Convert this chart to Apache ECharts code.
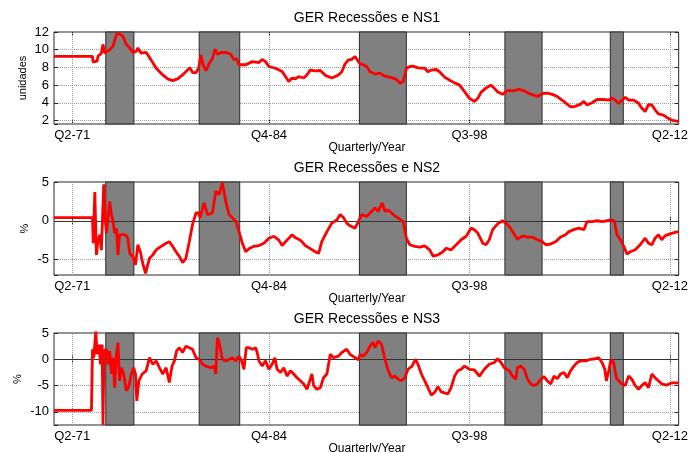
<!DOCTYPE html>
<html>
<head>
<meta charset="utf-8">
<script src="https://cdn.jsdelivr.net/npm/echarts@6/dist/echarts.min.js"></script>
<style>
  html, body { margin: 0; padding: 0; background: #fff; }
  #chart { width: 691px; height: 452px; }
</style>
</head>
<body>
<div id="chart"></div>
<script>
// eixo x em anos decimais
const xTicks = [1971.25, 1984.75, 1998.5, 2012.25];
const xTickLabels = ["Q2-71", "Q4-84", "Q3-98", "Q2-12"];
const recessions = [
  [1973.55, 1975.48],
  [1979.96, 1982.74],
  [1990.95, 1994.17],
  [2000.93, 2003.48],
  [2008.16, 2009.05],
];

const ns1Years = [1970.00,1972.64,1972.68,1972.95,1973.02,1973.14,1973.25,1973.36,1973.48,1973.60,
  1973.82,1974.05,1974.28,1974.46,1974.73,1974.96,1975.19,1975.41,1975.64,1975.75,
  1975.98,1976.32,1976.43,1976.66,1977.01,1977.46,1977.80,1978.14,1978.48,1978.82,
  1979.16,1979.33,1979.51,1979.74,1979.92,1980.08,1980.23,1980.42,1980.64,1980.87,
  1981.05,1981.21,1981.44,1981.78,1982.12,1982.35,1982.51,1982.69,1983.15,1983.60,
  1984.06,1984.28,1984.51,1984.74,1985.19,1985.65,1986.10,1986.33,1986.56,1986.78,
  1987.13,1987.35,1987.58,1987.92,1988.27,1988.61,1989.06,1989.51,1989.74,1989.97,
  1990.20,1990.42,1990.65,1990.76,1990.99,1991.22,1991.45,1991.68,1992.02,1992.36,
  1992.70,1993.15,1993.49,1993.72,1993.95,1994.18,1994.41,1994.63,1994.97,1995.43,
  1995.65,1995.88,1996.22,1996.45,1996.79,1997.14,1997.48,1997.82,1998.16,1998.50,
  1998.84,1999.07,1999.29,1999.63,1999.97,2000.20,2000.43,2000.77,2001.11,2001.46,
  2001.91,2002.25,2002.60,2002.94,2003.16,2003.50,2003.84,2004.18,2004.53,2004.98,
  2005.43,2005.77,2006.12,2006.34,2006.57,2006.91,2007.25,2007.71,2008.05,2008.28,
  2008.50,2008.73,2008.96,2009.19,2009.42,2009.76,2010.10,2010.32,2010.55,2010.78,
  2011.01,2011.23,2011.46,2011.80,2012.15,2012.49,2012.83];
const ns1Values = [9.25,9.25,8.6,8.7,9.25,9.3,9.6,10.6,9.6,9.5,
  10.0,10.4,11.7,11.85,11.5,10.6,10.2,9.7,9.8,10.2,
  9.6,9.7,9.5,8.85,7.9,7.15,6.7,6.5,6.7,7.15,
  7.7,7.95,7.4,7.4,7.9,9.4,8.3,7.64,8.4,9.03,
  10.07,9.5,9.68,9.7,9.5,8.85,9.0,8.3,8.3,8.65,
  8.55,8.9,8.65,8.1,7.9,7.53,6.4,6.8,6.7,6.95,
  6.8,7.15,7.7,7.6,7.65,7.1,6.8,7.15,7.5,8.4,
  8.85,8.9,9.23,9.05,8.4,8.3,8.1,7.5,7.25,7.35,
  7.0,6.85,6.65,6.2,6.4,7.9,8.1,8.15,7.95,7.9,
  7.5,7.7,7.76,7.5,6.9,6.55,6.25,6.0,5.25,4.5,
  4.14,4.5,5.18,5.65,6.0,5.65,5.25,4.95,5.4,5.35,
  5.52,5.35,5.03,4.85,4.7,5.03,5.1,4.95,4.7,4.14,
  3.55,3.6,3.85,4.15,3.75,4.0,4.37,4.37,4.3,4.55,
  4.3,3.92,4.3,4.6,4.3,4.3,3.95,3.37,3.0,3.8,
  3.75,3.2,2.75,2.6,2.23,1.97,1.9];

const ns2Years = [1970.00,1972.64,1972.69,1972.80,1972.91,1973.02,1973.14,1973.25,1973.41,1973.50,
  1973.60,1973.82,1973.94,1974.05,1974.16,1974.28,1974.39,1974.50,1974.73,1974.96,
  1975.07,1975.19,1975.41,1975.59,1975.75,1975.92,1976.09,1976.28,1976.43,1976.55,
  1976.78,1977.01,1977.35,1977.69,1977.91,1978.14,1978.37,1978.60,1978.82,1979.05,
  1979.28,1979.50,1979.74,1979.91,1980.03,1980.30,1980.53,1980.87,1981.10,1981.33,
  1981.55,1981.78,1982.01,1982.23,1982.47,1982.69,1982.92,1983.15,1983.37,1983.71,
  1984.06,1984.40,1984.74,1985.08,1985.42,1985.65,1985.99,1986.33,1986.56,1986.90,
  1987.24,1987.58,1987.92,1988.15,1988.37,1988.72,1989.06,1989.40,1989.63,1989.86,
  1990.08,1990.31,1990.65,1990.88,1991.10,1991.45,1991.68,1992.02,1992.24,1992.52,
  1992.70,1992.93,1993.27,1993.61,1993.95,1994.17,1994.41,1994.75,1995.09,1995.43,
  1995.77,1996.00,1996.34,1996.68,1996.90,1997.24,1997.59,1997.93,1998.27,1998.61,
  1998.84,1999.07,1999.41,1999.63,1999.86,2000.09,2000.43,2000.77,2001.00,2001.23,
  2001.45,2001.79,2002.14,2002.48,2002.82,2003.16,2003.50,2003.73,2004.07,2004.41,
  2004.75,2005.09,2005.32,2005.66,2006.00,2006.35,2006.57,2006.91,2007.25,2007.59,
  2007.94,2008.28,2008.43,2008.62,2008.85,2009.08,2009.30,2009.53,2009.87,2010.21,
  2010.55,2010.78,2011.01,2011.23,2011.46,2011.69,2011.91,2012.25,2012.60,2012.83];
const ns2Values = [0.4,0.4,-2.9,3.7,-4.4,-2.5,-1.8,-3.8,4.7,0.4,
  -1.6,2.5,0.8,-0.1,-1.6,-0.95,-4.4,-1.8,-1.8,-1.9,
  -2.3,-4.2,-4.6,-5.7,-3.1,-4.0,-5.5,-6.8,-5.7,-4.85,
  -4.4,-3.75,-3.3,-2.9,-2.7,-3.3,-4.0,-4.6,-5.4,-4.85,
  -2.7,-0.5,1.0,1.0,0.4,2.3,0.8,1.0,3.8,3.4,
  4.9,2.5,0.8,0.4,-0.1,-1.4,-2.9,-4.0,-3.6,-3.3,
  -3.2,-2.9,-2.25,-2.0,-2.5,-3.2,-2.5,-1.8,-2.2,-2.5,
  -3.2,-3.6,-4.0,-4.2,-2.7,-1.4,-0.3,0.1,0.8,0.4,
  -0.3,-0.65,-0.95,-0.1,0.8,0.56,1.0,1.65,1.2,2.3,
  1.2,1.4,0.8,0.35,-0.1,-2.25,-3.1,-3.3,-3.4,-3.25,
  -3.75,-4.55,-4.4,-4.0,-3.55,-3.75,-3.1,-2.45,-2.0,-0.95,
  -1.15,-1.6,-2.9,-3.1,-2.45,-1.15,-0.4,0,-0.3,-0.75,
  -1.4,-2.4,-1.95,-2.1,-2.1,-2.45,-2.7,-3.1,-3.0,-2.7,
  -2.1,-1.8,-1.4,-1.15,-0.95,-1.15,-0.1,-0.1,0,-0.1,
  0,0.1,0,-1.8,-2.45,-3.3,-4.3,-4.0,-3.75,-3.1,
  -2.25,-2.9,-3.1,-2.25,-1.8,-2.45,-1.95,-1.7,-1.5,-1.4];

const ns3Years = [1970.00,1972.57,1972.64,1972.73,1972.87,1972.95,1973.09,1973.19,1973.30,1973.36,
  1973.43,1973.60,1973.70,1973.82,1973.94,1974.05,1974.16,1974.28,1974.39,1974.50,
  1974.62,1974.78,1974.96,1975.14,1975.30,1975.46,1975.59,1975.68,1975.82,1976.05,
  1976.32,1976.55,1976.78,1977.01,1977.23,1977.46,1977.69,1977.91,1978.10,1978.26,
  1978.41,1978.60,1978.82,1979.05,1979.28,1979.50,1979.74,1979.96,1980.19,1980.42,
  1980.76,1980.99,1981.10,1981.21,1981.33,1981.44,1981.55,1981.78,1982.01,1982.23,
  1982.47,1982.69,1982.87,1983.03,1983.19,1983.37,1983.60,1983.83,1983.94,1984.06,
  1984.28,1984.51,1984.74,1984.96,1985.15,1985.30,1985.54,1985.76,1985.99,1986.22,
  1986.44,1986.67,1986.90,1987.13,1987.35,1987.58,1987.69,1987.81,1988.03,1988.27,
  1988.49,1988.72,1988.95,1989.17,1989.51,1989.74,1990.08,1990.31,1990.65,1990.88,
  1990.99,1991.22,1991.45,1991.68,1991.90,1992.02,1992.24,1992.47,1992.70,1992.93,
  1993.15,1993.38,1993.61,1993.83,1994.06,1994.29,1994.56,1994.79,1994.97,1995.20,
  1995.43,1995.65,1995.88,1996.11,1996.34,1996.56,1996.79,1997.02,1997.24,1997.48,
  1997.70,1997.93,1998.16,1998.50,1998.84,1999.18,1999.52,1999.86,2000.20,2000.43,
  2000.66,2000.89,2001.23,2001.45,2001.68,2001.79,2002.02,2002.25,2002.48,2002.70,
  2002.93,2003.16,2003.38,2003.61,2003.84,2004.07,2004.30,2004.52,2004.75,2004.98,
  2005.21,2005.43,2005.66,2005.89,2006.12,2006.46,2006.80,2007.14,2007.37,2007.59,
  2007.78,2007.89,2008.05,2008.21,2008.39,2008.57,2008.73,2008.96,2009.18,2009.42,
  2009.64,2009.87,2010.10,2010.32,2010.55,2010.78,2011.01,2011.23,2011.46,2011.69,
  2012.03,2012.37,2012.83];
const ns3Values = [-9.7,-9.7,1.9,0.3,5.5,0.95,2.8,-0.95,2.8,-12.5,
  1.6,1.9,-0.95,1.6,-2.8,0.3,-5.4,0.95,3.2,-4.1,
  -1.6,-2.8,-6.0,-5.1,-2.8,-1.6,-2.8,-7.9,-4.1,-2.8,
  -2.2,0.3,-0.95,-0.3,-1.6,-2.8,-1.6,-4.4,-1.3,-0.3,
  1.6,2.2,1.3,2.5,2.2,1.9,0.3,0,-0.95,-1.3,
  -1.6,-1.3,-2.8,4.1,3.2,2.9,0,-0.3,0,0.3,
  -0.3,0.6,-0.3,-1.9,2.2,2.2,1.9,2.2,1.3,-0.3,
  -1.3,-0.3,-1.9,-0.95,0.3,-1.9,-2.5,-1.6,-3.2,-2.2,
  -2.8,-3.5,-4.1,-4.7,-5.7,-3.8,-2.8,-5.0,-5.7,-5.4,
  -3.5,-2.8,0.95,0.3,0.6,1.3,1.9,0.95,0.3,-0.1,
  0.9,0.6,1.3,2.5,3.2,2.2,3.5,2.8,0,-2.2,
  -3.5,-3.2,-3.8,-4.1,-3.5,-1.9,-1.3,0,-0.95,-2.8,
  -4.1,-5.4,-6.8,-6.3,-5.2,-6.2,-6.4,-6.6,-5.4,-3.2,
  -2.2,-1.9,-1.3,-1.9,-2.0,-3.2,-1.9,-0.95,-0.6,0.1,
  -0.6,-1.6,-2.2,-3.2,-3.8,-1.6,-1.3,-1.9,-3.8,-4.7,
  -5.0,-4.7,-3.8,-3.3,-4.1,-4.7,-3.2,-3.7,-2.8,-2.5,
  -3.5,-2.2,-1.3,-0.6,-0.3,-0.3,0,0.1,0.3,-0.6,
  -1.9,-4.1,-2.2,0,-0.6,-3.5,-4.1,-4.7,-5.0,-3.2,
  -3.8,-5.0,-5.7,-5.0,-4.4,-5.4,-2.8,-3.5,-4.1,-4.7,
  -4.9,-4.5,-4.5];

const xMin = 1970.0;
const xMax = 2012.85;

const panels = [
  { title: "GER Recessões e NS1", yName: "unidades", years: ns1Years, values: ns1Values,
    yMin: 1.6, yMax: 12, split: 5, step: 2, zero: false, top: 32, height: 92, yNameX: 23 },
  { title: "GER Recessões e NS2", yName: "%", years: ns2Years, values: ns2Values,
    yMin: -7, yMax: 5, split: 2, step: 5, zero: true, top: 182, height: 93, yNameX: 25 },
  { title: "GER Recessões e NS3", yName: "%", years: ns3Years, values: ns3Values,
    yMin: -12.5, yMax: 5, split: 3, step: 5, zero: true, top: 333, height: 92, yNameX: 18 },
];

const FONT = "Liberation Sans, Arial, sans-serif";
const dark = "#262626";

const grid = [], xAxis = [], yAxis = [], series = [], graphic = [];

panels.forEach((p, i) => {
  grid.push({ left: 54, top: p.top, width: 628, height: p.height,
    show: true, borderColor: dark, borderWidth: 1, backgroundColor: "#fff" });

  // eixo x de baixo (rótulos) e de cima (só marcas)
  xAxis.push({
    type: "value", gridIndex: i, min: xMin, max: xMax, position: "bottom",
    axisLine: { show: false },
    axisTick: { show: true, inside: true, length: 4, customValues: xTicks, lineStyle: { color: dark } },
    axisLabel: { show: true, customValues: xTicks, margin: 5, color: "#000", fontSize: 13, fontFamily: FONT,
      formatter: (v) => { const k = xTicks.indexOf(v); return k >= 0 ? xTickLabels[k] : ""; } },
    splitLine: { show: false },
  });
  xAxis.push({
    type: "value", gridIndex: i, min: xMin, max: xMax, position: "top",
    axisLine: { show: false },
    axisTick: { show: true, inside: true, length: 4, customValues: xTicks, lineStyle: { color: dark } },
    axisLabel: { show: false }, splitLine: { show: false },
  });

  yAxis.push({
    type: "value", gridIndex: i, min: p.yMin, max: p.yMax, splitNumber: p.split, position: "left",
    axisLine: { show: false },
    axisTick: { show: true, inside: true, length: 4, lineStyle: { color: dark } },
    axisLabel: { margin: 5, color: "#000", fontSize: 13, fontFamily: FONT,
      formatter: (v) => (Math.abs(v % p.step) < 1e-9 ? String(v) : "") },
    splitLine: { show: true, lineStyle: { type: "dotted", color: "#999", width: 1 } },
  });
  yAxis.push({
    type: "value", gridIndex: i, min: p.yMin, max: p.yMax, splitNumber: p.split, position: "right",
    axisLine: { show: false },
    axisTick: { show: true, inside: true, length: 4, lineStyle: { color: dark } },
    axisLabel: { show: false }, splitLine: { show: false },
  });

  // linhas verticais pontilhadas nas marcas do eixo x (atrás das recessões)
  series.push({
    type: "line", xAxisIndex: 2 * i, yAxisIndex: 2 * i, data: [], silent: true,
    markLine: {
      z: 0.5, silent: true, symbol: "none", label: { show: false },
      lineStyle: { type: "dotted", color: "#999", width: 1 },
      data: xTicks.map((v) => ({ xAxis: v })),
    },
  });

  const s = {
    name: p.title, type: "line", xAxisIndex: 2 * i, yAxisIndex: 2 * i, z: 3,
    data: p.years.map((x, k) => [x, p.values[k]]),
    showSymbol: false, symbol: "none", clip: true,
    lineStyle: { color: "#ff0000", width: 2.8 },
    markArea: {
      z: 1, silent: true, label: { show: false },
      itemStyle: { color: "#808080", borderColor: "#2b2b2b", borderWidth: 1 },
      data: recessions.map((r) => [{ xAxis: r[0] }, { xAxis: r[1] }]),
    },
  };
  if (p.zero) {
    s.markLine = {
      z: 2, silent: true, symbol: "none", label: { show: false },
      lineStyle: { type: "solid", color: "#333", width: 1 },
      data: [{ yAxis: 0 }],
    };
  }
  series.push(s);

  graphic.push({ type: "text", x: 367, y: p.top - 14,
    style: { text: p.title, font: "14px " + FONT, fill: "#000", textAlign: "center", textVerticalAlign: "middle" } });
  graphic.push({ type: "text", x: 367, y: p.top + p.height + 24,
    style: { text: "Quarterly/Year", font: "12px " + FONT, fill: "#000", textAlign: "center", textVerticalAlign: "middle" } });
  graphic.push({ type: "text", x: p.yNameX, y: p.top + p.height / 2, rotation: Math.PI / 2,
    style: { text: p.yName, font: "11px " + FONT, fill: "#000", textAlign: "center", textVerticalAlign: "middle" } });
});

const chart = echarts.init(document.getElementById("chart"), null, { renderer: "canvas" });
chart.setOption({
  backgroundColor: "#fff",
  animation: false,
  grid, xAxis, yAxis, series, graphic,
});
</script>
</body>
</html>
